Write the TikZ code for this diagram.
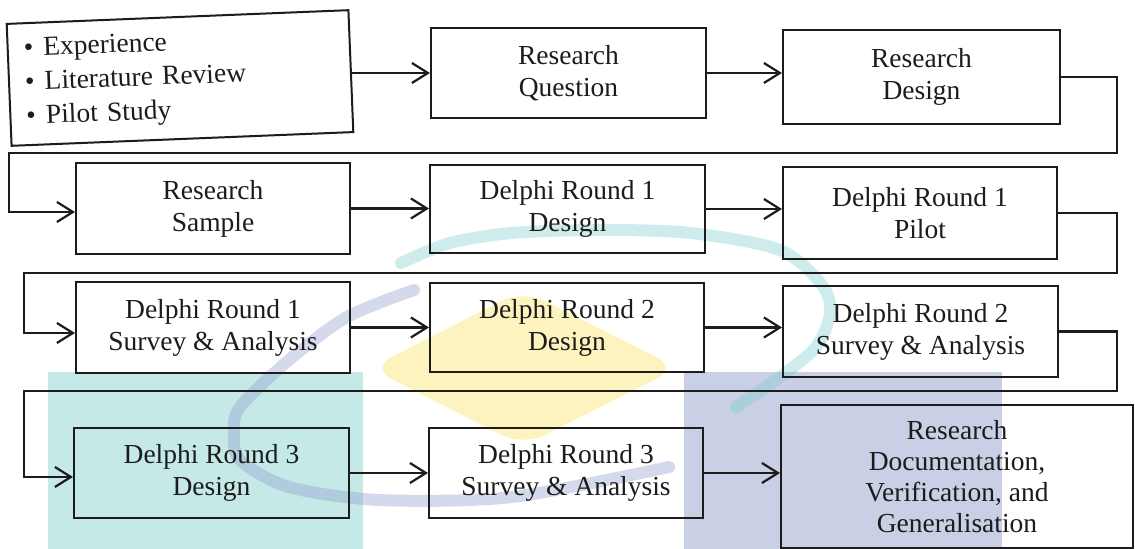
\documentclass[tikz,border=0pt]{standalone}
\usepackage{fontspec}
\setmainfont{Liberation Serif}
\usetikzlibrary{arrows.meta}

\definecolor{wmteal}{RGB}{197,233,231}
\definecolor{wmblue}{RGB}{201,207,228}
\definecolor{wmyellow}{RGB}{253,243,190}
\definecolor{ringteal}{RGB}{120,205,205}
\definecolor{ringblue}{RGB}{140,150,205}
\definecolor{ink}{RGB}{28,28,28}

\begin{document}
\begin{tikzpicture}[x=0.5pt,y=-0.5pt,
  stage/.style={draw=ink, line width=1pt, inner sep=2pt, align=center, text=ink,
    font=\fontsize{13.75}{16}\selectfont},
  wh/.style 2 args={minimum width=#1*0.5pt, minimum height=#2*0.5pt},
  link/.style={draw=ink, line width=1.1pt, -{Straight Barb[length=8pt,width=10pt]}},
  ring/.style={line width=6pt, line cap=round, opacity=0.36},
]
\useasboundingbox (0,0) rectangle (1135,549);
\fill[white] (0,0) rectangle (1135,549);

% background emblem
\fill[wmteal] (48,372) rectangle (363,549);
\fill[wmblue] (684,372) rectangle (1002,549);
\fill[wmyellow, rounded corners=12pt] (523,290) -- (678,368) -- (523,446) -- (370,368) -- cycle;
\draw[ring, ringteal] plot[smooth] coordinates {(401,263) (450,243) (512,233) (600,230) (691,233) (780,250) (822,285) (830,313) (816,347) (780,377) (736,407)};
\draw[ring, ringblue] plot[smooth] coordinates {(414,290) (347,317) (289,360) (240,407) (234,432) (240,460) (289,487) (379,500) (512,497) (669,467)};

% row 1
\node[stage, wh={342}{122}, rotate=2.3, align=left, text width=310*0.5pt,
      inner xsep=5.5pt, font=\fontsize{13.75}{17}\selectfont] (b0) at (180,78)
  {\textbullet\hspace{5pt}Experience\\ \textbullet\hspace{5pt}Literature Review\\ \textbullet\hspace{5pt}Pilot Study};
\node[stage, wh={275}{90}] (rq) at (568.5,73) {Research\\Question};
\node[stage, wh={277}{94}] (rd) at (921.5,77) {Research\\Design};

% row 2
\node[stage, wh={274}{91}] (rs)  at (213,208.5) {Research\\Sample};
\node[stage, wh={275}{88}] (d1d) at (567.5,209) {Delphi Round 1\\Design};
\node[stage, wh={274}{92}] (d1p) at (920,213) {Delphi Round 1\\Pilot};

% row 3
\node[stage, wh={274}{91}] (d1s) at (213,327.5) {Delphi Round 1\\Survey \& Analysis};
\node[stage, wh={274}{89}] (d2d) at (567,327.5) {Delphi Round 2\\Design};
\node[stage, wh={275}{91}] (d2s) at (920.5,331.5) {Delphi Round 2\\Survey \& Analysis};

% row 4
\node[stage, wh={275}{90}] (d3d) at (211.5,473) {Delphi Round 3\\Design};
\node[stage, wh={274}{90}] (d3s) at (566,473) {Delphi Round 3\\Survey \& Analysis};
\node[stage, wh={352}{143}, font=\fontsize{13.75}{15.5}\selectfont] (doc) at (957,476.5)
  {Research\\Documentation,\\Verification, and\\Generalisation};

% turning points of the return lines
\coordinate (r1) at (1117,153);
\coordinate (l1) at (9,153);
\coordinate (in2) at (9,212);
\coordinate (r2) at (1117,273);
\coordinate (l2) at (24,273);
\coordinate (in3) at (24,333);
\coordinate (r3) at (1117,391);
\coordinate (l3) at (24,391);
\coordinate (in4) at (24,477);

% straight links
\draw[link] (b0.east |- rq.west) -- (rq.west);
\draw[link] (rq.east) -- (rq.east -| rd.west);
\draw[link] (rs.east) -- (rs.east -| d1d.west);
\draw[link] (d1d.east) -- (d1d.east -| d1p.west);
\draw[link] (d1s.east) -- (d1s.east -| d2d.west);
\draw[link] (d2d.east) -- (d2d.east -| d2s.west);
\draw[link] (d3d.east) -- (d3d.east -| d3s.west);
\draw[link] (d3s.east) -- (d3s.east -| doc.west);

% return links to the next row
\draw[link] (rd.east) -| (r1) -- (l1) -- (in2) -- (in2 -| rs.west);
\draw[link] (d1p.east) -| (r2) -- (l2) -- (in3) -- (in3 -| d1s.west);
\draw[link] (d2s.east) -| (r3) -- (l3) -- (in4) -- (in4 -| d3d.west);
\end{tikzpicture}
\end{document}
